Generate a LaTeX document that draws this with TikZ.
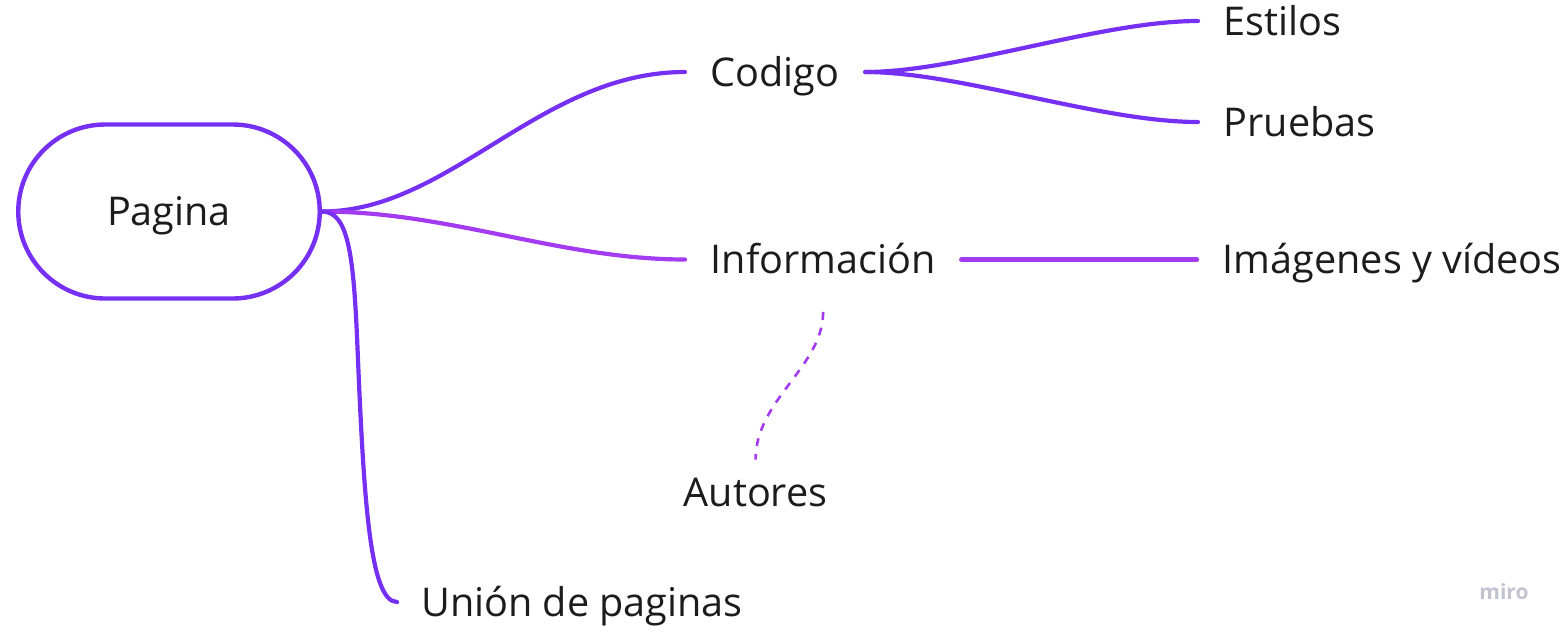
\documentclass[tikz,border=0pt]{standalone}
\usepackage{fontspec}
\setmainfont{Open Sans}
\definecolor{violet1}{HTML}{7630F4}
\definecolor{violet2}{HTML}{A33CF0}
\definecolor{txt}{HTML}{1C1C1C}
\definecolor{logo}{HTML}{C2C2D0}
\begin{document}
\begin{tikzpicture}[x=1pt,y=-1pt,
  lbl/.style={font=\fontsize{39.6}{48}\selectfont, text=txt, text height=28.3pt, text depth=0pt, inner ysep=0pt, inner xsep=25.5pt},
  link/.style={line width=4.2pt, line cap=round, violet1},
  link2/.style={line width=4.2pt, line cap=round, violet2},
  dlink/.style={line width=2.6pt, violet2, dash pattern=on 8pt off 8pt}
]
\useasboundingbox (0,0) rectangle (1566,638);
\node[draw=violet1, line width=4.4pt, rounded corners=87pt, minimum width=301.5pt, minimum height=174pt,
      font=\fontsize{39.6}{48}\selectfont, text=txt, text height=28.3pt, text depth=0pt, inner sep=0pt]
      (pagina) at (169,211.5) {Pagina};
\node[lbl, anchor=west] (codigo) at (685,72) {Codigo};
\node[lbl, anchor=west] (estilos) at (1198,21) {Estilos};
\node[lbl, anchor=west] (pruebas) at (1198,122) {Pruebas};
\node[lbl, anchor=west] (info) at (685,259.5) {Información};
\node[lbl, anchor=west] (imag) at (1197,259.5) {Imágenes y vídeos};
\node[lbl, anchor=west] (autores) at (658,492) {Autores};
\node[lbl, anchor=west, inner xsep=24pt] (union) at (397,602) {Unión de paginas};
\node[font=\fontsize{21}{26}\selectfont\bfseries, text=logo, inner sep=0pt] (miro) at (1504,592) {miro};

\draw[link] (pagina.east) .. controls (450,211.5) and (540,72) .. (codigo.west);
\draw[link2] (pagina.east) .. controls (450,211.5) and (560,259.5) .. (info.west);
\draw[link] (pagina.east) .. controls (350,211.5) and (354,260) .. (358,360)
   .. controls (364,500) and (370,602) .. (union.west);
\draw[link] (codigo.east) .. controls (960,72) and (1100,21) .. (estilos.west);
\draw[link] (codigo.east) .. controls (960,72) and (1100,122) .. (pruebas.west);
\draw[link2] (info.east) -- (imag.west);
\draw[dlink] ([yshift=-38pt]info.south) .. controls +(0,55) and +(0,-60) .. ([yshift=18pt]autores.north);
\end{tikzpicture}
\end{document}
